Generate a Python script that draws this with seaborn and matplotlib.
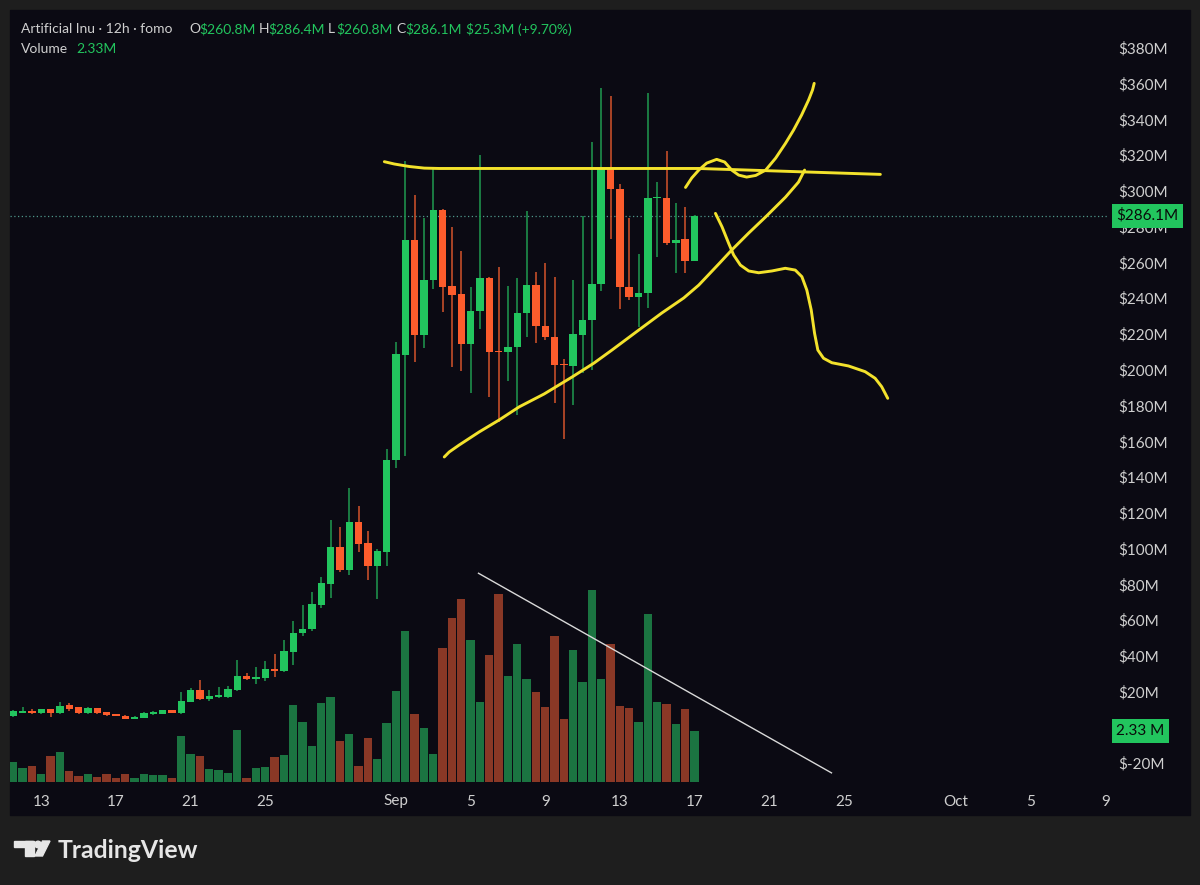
import numpy as np
import pandas as pd
import matplotlib
matplotlib.use("Agg")
import matplotlib.pyplot as plt
import matplotlib.transforms as mtransforms
from matplotlib.patches import Rectangle, Circle, Polygon
import seaborn as sns

# 12h candles, Aug 11 12:00 -> Sep 17 00:00 (values in $M)
start = pd.Timestamp("2023-08-11 12:00")
opens = [6.5, 8.3, 9.4, 7.9, 10.2, 7.9, 12.4, 11.3, 7.9, 10.7,
         8.7, 6.9, 6.6, 4.9, 5.3, 7.7, 7.7, 9.8, 7.9, 14.4,
         21, 16.1, 16.9, 17.2, 21, 29, 27.1, 27.8, 32.5, 31.7,
         42.4, 52.7, 54.9, 68.5, 80.2, 101, 88, 114.7, 103, 90.3,
         98.3, 149.5, 208.2, 272.3, 219.4, 250, 289.3, 246.8, 242.3, 214.4,
         233, 251, 210.5, 209.7, 212.9, 231.5, 247.3, 224.4, 218.4, 203.3,
         202.3, 219.4, 227.8, 248, 313, 300.8, 246, 240.5, 242.7, 295.8,
         295.8, 271, 272.9, 260.8]
highs = [10, 11.3, 10.5, 10.5, 10.4, 14.4, 13.7, 11.5, 11.3, 10.9,
         8.9, 7.0, 6.8, 6.2, 8.5, 9.3, 10, 10, 20, 22,
         26.6, 20.7, 22.8, 23, 37.7, 30.3, 34, 37, 41, 49,
         59.5, 68.5, 76, 84, 116, 112, 134, 124, 110, 100,
         155.5, 215.3, 316.8, 297.6, 285, 312.6, 290, 280, 266.5, 246,
         320, 252, 257.6, 246.8, 251, 288.7, 254.4, 259.5, 252, 205.8,
         250, 286, 327.4, 357.3, 353, 304, 285, 264.7, 354.5, 305,
         322.4, 293, 291, 286.4]
lows = [6, 8, 7.5, 7.7, 6, 7.7, 9, 7.7, 7.7, 7.7,
        6.2, 6.5, 4.5, 4.7, 5.2, 7.2, 7.3, 7.8, 7.7, 14,
        15.5, 15, 16.6, 16.5, 20.5, 26.8, 24.3, 26, 28.4, 31,
        35, 51, 54, 67, 72.5, 87, 85, 98, 82.4, 72,
        90, 145, 152, 204.5, 212, 245, 232.4, 201.7, 199.4, 187,
        223, 185, 171, 193.7, 174.7, 218.4, 214.7, 216.6, 181.6, 161,
        180.3, 198, 199.8, 244, 272.9, 233.8, 239, 223.7, 234.3, 263,
        269.7, 254.2, 253.9, 260.8]
closes = [9, 9.4, 7.9, 10.2, 7.9, 12, 10.5, 7.9, 10.7, 7.9,
          6.8, 6.6, 4.7, 5.9, 8.3, 8.1, 9.6, 8.0, 15, 21,
          15.8, 17.6, 18, 21.5, 29, 27.1, 28.2, 32.5, 31.7, 42.8,
          53, 55.2, 68.9, 80.6, 101, 88, 114.7, 102.6, 90.3, 98.8,
          149.5, 208.8, 272.3, 219.4, 250.3, 289.3, 246, 241.8, 214.4, 233,
          251, 209.7, 209.7, 212.9, 231.5, 247.3, 224.4, 218.4, 202.6, 202.6,
          220, 227.8, 248, 313, 300.8, 246, 240.5, 242.7, 295.8, 296.3,
          271, 272.5, 260.8, 286.1]
volume = [0.91, 0.65, 0.73, 0.35, 1.19, 1.37, 0.50, 0.27, 0.35, 0.24,
          0.35, 0.17, 0.35, 0.20, 0.38, 0.30, 0.30, 0.17, 2.10, 1.26,
          1.19, 0.58, 0.55, 0.43, 2.37, 0.20, 0.62, 0.70, 1.14, 1.23,
          3.52, 2.72, 1.64, 3.62, 3.90, 1.87, 2.18, 0.73, 1.99, 1.04,
          2.68, 4.16, 6.88, 3.12, 2.47, 1.29, 6.13, 7.49, 8.36, 6.47,
          3.65, 5.78, 8.60, 4.84, 6.29, 4.69, 4.12, 3.42, 6.68, 2.89,
          6.04, 4.57, 8.78, 4.69, 6.29, 3.47, 3.39, 2.74, 7.69, 3.65,
          3.55, 2.63, 3.32, 2.33]

# date axis
tick_dates = ["2023-08-13", "2023-08-17", "2023-08-21", "2023-08-25", "2023-09-01",
              "2023-09-05", "2023-09-09", "2023-09-13", "2023-09-17", "2023-09-21",
              "2023-09-25", "2023-10-01", "2023-10-05", "2023-10-09"]
tick_labels = ["13", "17", "21", "25", "Sep", "5", "9", "13", "17", "21", "25", "Oct", "5", "9"]
price_ticks = [-20, 20, 40, 60, 80, 100, 120, 140, 160, 180, 200, 220, 240,
               260, 280, 300, 320, 340, 360, 380]

# hand drawn lines (candle index, $M)
resist_x = [39.76, 40.83, 42.44, 44.04, 45.64, 73.45, 92.91]
resist_y = [316.3, 315.0, 313.6, 312.7, 312.5, 312.5, 309.2]
support_x = [46.18, 46.71, 47.78, 49.92, 52.06, 54.20, 56.87, 59.87, 62.22, 64.15, 67.03,
             69.49, 71.84, 73.45, 75.59, 76.98, 78.80, 80.61, 82.75, 84.14, 84.79]
support_y = [151.2, 154.0, 157.9, 165.2, 171.9, 179.2, 186.4, 195.9, 203.7, 211.0, 222.2,
             231.7, 240.1, 247.3, 259.1, 266.9, 276.4, 285.4, 296.5, 304.9, 311.6]
up_x = [72.03, 72.70, 73.45, 74.30, 75.37, 76.23, 76.98, 77.73, 78.58, 79.55, 80.62,
        81.69, 82.75, 83.61, 84.47, 85.22, 85.64, 85.82]
up_y = [301.9, 307.2, 311.6, 315.5, 317.6, 316.1, 311.6, 308.8, 307.7, 308.6, 311.6,
        318.3, 326.6, 334.0, 342.4, 350.8, 356.4, 360.1]
down_x = [75.24, 75.94, 76.66, 77.19, 77.91, 78.80, 79.87, 81.29, 82.72, 83.79, 84.50,
          85.03, 85.50, 85.86, 86.21, 86.82, 87.71, 89.49, 91.28, 92.35, 93.05, 93.70]
down_y = [287.4, 279.9, 270.6, 264.1, 258.5, 255.2, 254.2, 255.2, 256.7, 255.7, 252.0,
          244.5, 233.4, 220.3, 211.0, 206.4, 203.9, 202.1, 198.9, 195.2, 190.5, 184.0]
vol_line_x = [49.85, 87.67]
vol_line_y = [86.2, -25.4]

OUTER = "#1e1e1e"
PANEL = "#0b0a13"
UP = "#22c55e"
DOWN = "#fc5c2c"
UP_WICK = "#1f9a50"
DOWN_WICK = "#d4542b"
VOL_UP = "#1b7441"
VOL_DOWN = "#8a3826"
TXT = "#cfcfcf"
YELLOW = "#f3e22c"

plt.rcParams["font.family"] = ["Lato", "DejaVu Sans"]

o = np.array(opens); h = np.array(highs); l = np.array(lows); c = np.array(closes)
idx = np.arange(len(opens))
is_up = c >= o
tick_pos = [(pd.Timestamp(d) - start) / pd.Timedelta(hours=12) for d in tick_dates]

fig = plt.figure(figsize=(12, 8.85), dpi=100, facecolor=OUTER)

# pixel-space background layer
bg = fig.add_axes([0, 0, 1, 1])
bg.set_xlim(0, 1200)
bg.set_ylim(885, 0)
bg.axis("off")
bg.add_patch(Rectangle((10, 10), 1180, 805, color=PANEL))

ax_vol = fig.add_axes([10 / 1200, 103 / 885, 1098 / 1200, 772 / 885])
ax_vol.set_facecolor("none")
ax = ax_vol.twinx()

# volume
vol_df = pd.DataFrame({"idx": idx, "volume": volume,
                       "dir": np.where(is_up, "up", "down")})
sns.barplot(data=vol_df, x="idx", y="volume", hue="dir",
            palette={"up": VOL_UP, "down": VOL_DOWN}, native_scale=True,
            width=0.9, dodge=False, errorbar=None, legend=False,
            linewidth=0, saturation=1, ax=ax_vol)
ax_vol.set_ylim(0, 35.25)
ax_vol.set_yticks([])
ax_vol.set_xlabel("")
ax_vol.set_ylabel("")

# candles
ax.vlines(idx, l, h, colors=np.where(is_up, UP_WICK, DOWN_WICK), lw=1.1, zorder=1)
ax.bar(idx, np.maximum(np.abs(c - o), 0.7), bottom=np.minimum(o, c), width=0.8,
       color=np.where(is_up, UP, DOWN), linewidth=0, zorder=2)

ax.axhline(closes[-1], color="#4e968a", ls=(0, (1, 2)), lw=0.9, zorder=0)

for xs, ys in [(resist_x, resist_y), (support_x, support_y), (up_x, up_y), (down_x, down_y)]:
    ax.plot(xs, ys, color=YELLOW, lw=2.1, solid_capstyle="round", solid_joinstyle="round", zorder=4)
ax.plot(vol_line_x, vol_line_y, color="#d9d9d9", lw=1.0, zorder=4)

ax.set_ylim(-30.5, 401.1)
ax.set_xlim(-0.35, 117.3)
ax.set_yticks(price_ticks, [f"${v}M" for v in price_ticks])
ax.tick_params(axis="y", length=0, pad=7, labelcolor=TXT, labelsize=11)
ax_vol.set_xticks(tick_pos, tick_labels)
ax_vol.tick_params(axis="x", length=0, pad=9, labelcolor=TXT, labelsize=11)
for a in (ax, ax_vol):
    for s in a.spines.values():
        s.set_visible(False)

trans = mtransforms.blended_transform_factory(ax.transAxes, ax.transData)
ax.text(1.0075, closes[-1], f"${closes[-1]}M", transform=trans, ha="left", va="center",
        fontsize=11, color="#0a0a0a", clip_on=False, zorder=6,
        bbox=dict(boxstyle="square,pad=0.3", fc=UP, ec="none"))
ax.text(1.0075, -2, f"{volume[-1]} M", transform=trans, ha="left", va="center",
        fontsize=11, color="#0a0a0a", clip_on=False, zorder=6,
        bbox=dict(boxstyle="square,pad=0.3", fc=UP, ec="none"))

# legend header
bg.text(21, 29, "Artificial Inu · 12h · fomo", color=TXT, fontsize=10, va="center")
for x, s in [(189, "O"), (259, "H"), (328, "L"), (396, "C")]:
    bg.text(x, 29, s, color=TXT, fontsize=10, va="center")
for x, s in [(199, f"${opens[-1]}M"), (268, f"${highs[-1]}M"), (336, f"${lows[-1]}M"),
             (405, f"${closes[-1]}M"), (466, "$25.3M (+9.70%)")]:
    bg.text(x, 29, s, color=UP, fontsize=10, va="center")
bg.text(21, 49, "Volume", color=TXT, fontsize=10, va="center")
bg.text(76, 49, f"{volume[-1]}M", color=UP, fontsize=10, va="center")

# TradingView logo
LOGO = "#e6e6e6"
bg.add_patch(Rectangle((14, 841), 19, 6, color=LOGO))
bg.add_patch(Rectangle((25, 841), 8.5, 15, color=LOGO))
bg.add_patch(Circle((38, 844.5), 3.3, color=LOGO))
bg.add_patch(Polygon([(42.5, 841), (50, 841), (42.5, 856), (35, 856)], color=LOGO))
bg.text(58, 850, "TradingView", color=LOGO, fontsize=17.8, fontweight="bold", va="center")

fig.savefig("out.png", dpi=100, facecolor=OUTER)
